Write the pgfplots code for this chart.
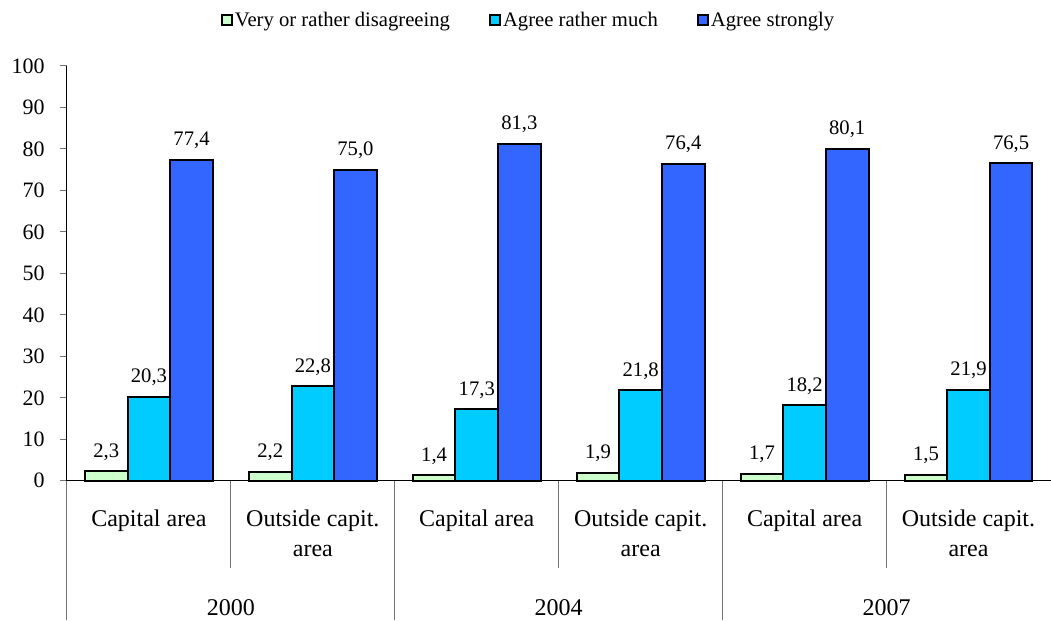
\documentclass[border=0pt]{standalone}
\usepackage{pgfplots}
\pgfplotsset{compat=1.18}
\usepackage{fontspec}
\setmainfont{Liberation Serif}
\definecolor{cgreen}{HTML}{CCFFCC}
\definecolor{ccyan}{HTML}{00CCFF}
\definecolor{cblue}{HTML}{3366FF}
\newcommand{\catfont}{\fontsize{18}{20}\selectfont}
\begin{document}
\begin{tikzpicture}
\begin{axis}[
    scale only axis,
    width=738pt, height=311.25pt,
    xmin=-0.5, xmax=5.5, ymin=0, ymax=100,
    axis lines*=left,
    axis line style={black, line width=0.75pt},
    xtick=\empty,
    ytick={0,10,...,100},
    tick align=outside,
    major tick length=5.25pt,
    ytick style={black!55, line width=0.75pt},
    yticklabel style={font=\fontsize{16.5}{18}\selectfont, xshift=-8pt, /pgf/number format/assume math mode=true},
    ybar, bar width=0.26,
    clip=false,
    nodes near coords,
    every node near coord/.append style={font=\fontsize{15.5}{17}\selectfont, yshift=4pt,
        /pgf/number format/.cd, fixed, fixed zerofill, precision=1, use comma, assume math mode=true},
    legend columns=3,
    legend style={at={(0.4695,1)}, anchor=center, yshift=34.5pt, draw=none, fill=none,
        font=\fontsize{15.5}{17}\selectfont, nodes={inner xsep=1.5pt},
        /tikz/every even column/.append style={column sep=28pt}},
    legend image code/.code={\draw[#1, line width=1.3pt] (0pt,-3.75pt) rectangle (7.5pt,3.75pt);},
]
\addplot[fill=cgreen, draw=black, line width=1.5pt, bar shift=-0.26] coordinates {(0,2.3) (1,2.2) (2,1.4) (3,1.9) (4,1.7) (5,1.5)};
\addplot[fill=ccyan, draw=black, line width=1.5pt, bar shift=0] coordinates {(0,20.3) (1,22.8) (2,17.3) (3,21.8) (4,18.2) (5,21.9)};
\addplot[fill=cblue, draw=black, line width=1.5pt, bar shift=0.26] coordinates {(0,77.4) (1,75.0) (2,81.3) (3,76.4) (4,80.1) (5,76.5)};
\legend{Very or rather disagreeing, Agree rather much, Agree strongly}

% separators below the axis
\draw[black!55, line width=0.75pt] (axis cs:-0.5,0) -- ++(0pt,-104.25pt);
\draw[black!55, line width=0.75pt] (axis cs:1.5,0) -- ++(0pt,-104.25pt);
\draw[black!55, line width=0.75pt] (axis cs:3.5,0) -- ++(0pt,-104.25pt);
\draw[black!55, line width=0.75pt] (axis cs:0.5,0) -- ++(0pt,-65.25pt);
\draw[black!55, line width=0.75pt] (axis cs:2.5,0) -- ++(0pt,-65.25pt);
\draw[black!55, line width=0.75pt] (axis cs:4.5,0) -- ++(0pt,-65.25pt);

% category labels
\node[anchor=base, font=\catfont] at ([yshift=-34.5pt]axis cs:0,0) {Capital area};
\node[anchor=base, font=\catfont] at ([yshift=-34.5pt]axis cs:2,0) {Capital area};
\node[anchor=base, font=\catfont] at ([yshift=-34.5pt]axis cs:4,0) {Capital area};
\node[anchor=base, font=\catfont] at ([yshift=-34.5pt]axis cs:1,0) {Outside capit.};
\node[anchor=base, font=\catfont] at ([yshift=-34.5pt]axis cs:3,0) {Outside capit.};
\node[anchor=base, font=\catfont] at ([yshift=-34.5pt]axis cs:5,0) {Outside capit.};
\node[anchor=base, font=\catfont] at ([yshift=-57pt]axis cs:1,0) {area};
\node[anchor=base, font=\catfont] at ([yshift=-57pt]axis cs:3,0) {area};
\node[anchor=base, font=\catfont] at ([yshift=-57pt]axis cs:5,0) {area};
\node[anchor=base, font=\catfont] at ([yshift=-101.25pt]axis cs:0.5,0) {2000};
\node[anchor=base, font=\catfont] at ([yshift=-101.25pt]axis cs:2.5,0) {2004};
\node[anchor=base, font=\catfont] at ([yshift=-101.25pt]axis cs:4.5,0) {2007};

% picture frame
\path ([xshift=-50.25pt, yshift=-104.25pt]rel axis cs:0,0) rectangle ([yshift=49.5pt]rel axis cs:1,1);
\end{axis}
\end{tikzpicture}
\end{document}
